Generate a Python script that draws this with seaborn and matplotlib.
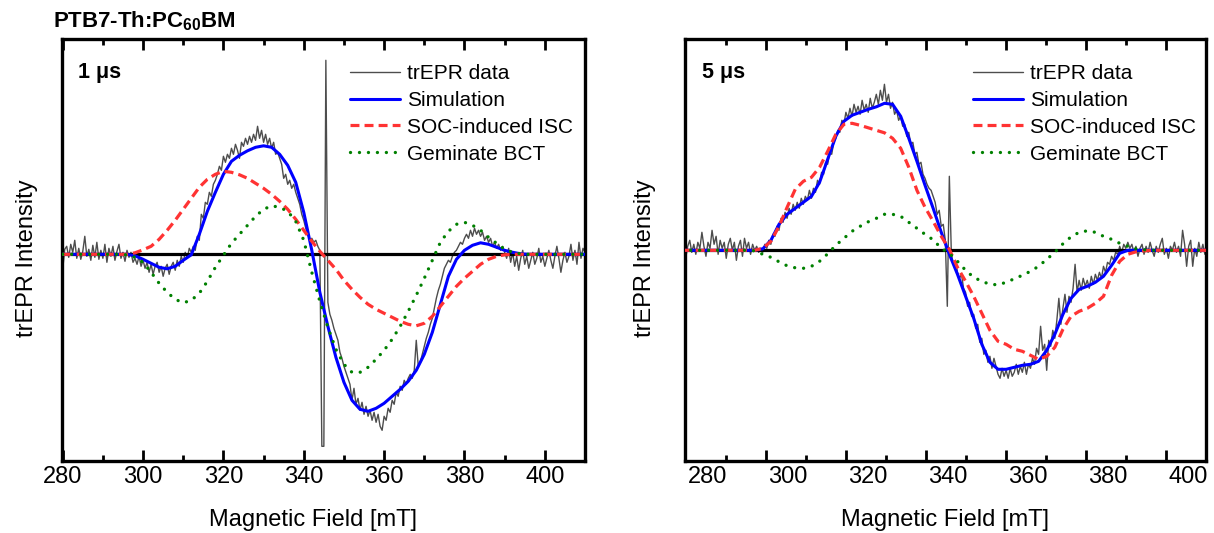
import numpy as np
import pandas as pd
import matplotlib
matplotlib.use("Agg")
import matplotlib.pyplot as plt
import seaborn as sns

# ---------------- 1 us transient (left panel) ----------------
field_1us = np.arange(280.0, 410.01, 0.5)
trepr_1us = [
    -15, 5, 8, -3, 10, 2, 14, -4, 6, -5, 3, 18, -2, 5, -6, 9, -3, 12, -5, 4, -4, 10, -8, 6, -2, 8, -6, 3, 10, -4, 2, -7, 4,
    -3, 2, -8, -4, -10, -2, -12, -6, -14, -8, -18, -10, -20, -12, -8, -18, -12, -22, -14, -10, -20, -12, -8, -16, -6, -12, -2, -8, 2, -4, 6, 2,
    8, 4, 18, 14, 40, 36, 52, 50, 62, 58, 70, 74, 80, 88, 84, 98,
    92, 100, 96, 106, 100, 110, 104, 96, 112, 108, 116, 110, 118, 112, 120, 114, 128, 116, 124, 112, 120, 110, 116, 106, 112, 100,
    102, 96, 90, 76, 80, 70, 74, 66, 70, 62, 56, 50, 40, 34, 26, 20, 14, 16, 12, 14, 8, 4,
    -192, -192, 194, -48,
    -60, -66, -74, -80, -86, -98, -104, -112, -118, -124, -130, -146, -134, -150, -144, -156, -148, -160, -152, -162,
    -156, -166, -158, -168, -160, -172, -176, -162, -166, -154, -158, -146, -150, -138, -142, -132, -136, -126, -130, -124,
    -120, -124, -116, -86, -112, -108, -100, -92, -84, -78, -70, -64, -54, -44, -36, -30, -22, -14, -10, -6, -8, -2, 2, 4, 8, 12, 10, 16,
    20, 16, 24, 18, 26, 20, 24, 18, 22, 14, 18, 12, 16, 8, 12, 6, 10, 4, 8, 2,
    -4, 6, -8, 2, -12, -2, -16, -4, 4, -10, -2, -14, -6, 2, -10, -4, 6, -8, -2, -12,
    -4, 4, -6, -14, -2, 8, -4, -18, -6, 2, -8, -2, 10, -6, 4, -10, 12, -4, 6, 2,
]
fit_field_1us = np.arange(280.0, 410.01, 2.0)
sim_1us = [0] * 9 + [
    -1.5, -5, -9, -13, -14.5, -12, -6, -0.5, 20, 43, 62, 80, 93, 99, 103.5, 107, 108.5, 107, 100, 89, 72,
    42, 4, -38, -72, -103, -128, -146, -155, -157, -154, -149, -142, -135, -127, -116, -100, -78, -50, -22, -5,
    4, 9, 11.5, 10, 7, 4, 2, 0.5,
] + [0] * 8
soc_1us = [0] * 9 + [
    1.5, 4.5, 8, 15, 24, 34, 45, 56, 67, 75, 80, 83, 82, 79.5, 76, 71, 66, 60, 53, 45, 35, 24, 13, 3,
    -6, -15, -26, -35, -43, -50, -55, -59, -63, -67, -70, -71.5, -69, -62, -52, -42, -32, -24, -17, -10, -5, -2, -0.5,
] + [0] * 10
bct_1us = [0] * 8 + [
    -0.5, -3, -8, -18, -29, -38, -45, -48.5, -46, -39, -27, -13, -1, 11, 20, 29, 38, 45, 48.5, 47, 43, 33, 14,
    -18, -47, -73, -95, -110, -118, -118, -113, -105, -96, -85, -72, -57, -41, -24, -6, 12, 23, 30, 32, 29, 24,
    17, 11, 5, 2, 0.5,
] + [0] * 8

# ---------------- 5 us transient (right panel) ----------------
field_5us = np.linspace(274.5, 405.15, 259)
trepr_5us = [
    -8, 4, 10, -2, 6, -4, 8, 2, 18, 4, -6, 8, 2, 20, 6, 14, -4, 10, 2, 8, -8, 6, 12, 0, 8, -10, 4, 10, -6, 12, 2, 8, -4, 6, 0, 4, -2,
    2, -2, 6, 2, 10, 6, 16, 14, 24, 20, 32, 28, 38, 32, 42, 36, 46, 40, 48, 42, 52, 46, 54, 50, 60, 52, 62, 58, 70, 66, 78, 76, 88, 86,
    98, 96, 108, 112, 120, 118, 130, 126, 138, 132, 142, 134, 146, 138, 144, 136, 150, 140, 146, 138,
    152, 142, 148, 156, 146, 160, 150, 166, 148, 156, 142, 148, 136, 140, 130, 134, 124, 126, 114, 118,
    106, 108, 96, 98, 86, 88, 76, 72, 66, 62, 60, 54, 48, 36, 40, 24, 26, 10, -56, 74, -4, -14, -10, -22,
    -28, -24, -38, -42, -56, -52, -66, -64, -78, -74, -92, -88, -104, -100, -112, -106, -118, -108, -116, -124,
    -128, -118, -126, -120, -128, -118, -126, -122,
    -114, -124, -116, -122, -112, -124, -114, -118, -108, -114, -98, -104, -76, -100, -94, -120, -90, -96, -80, -88,
    -70, -48, -74, -58, -44, -62, -46, -52, -38, -14, -42, -30, -40, -28, -36, -30, -38, -26, -34, -24,
    -30, -22, -28, -16, -22, -12, -14, -6, -10, -2, -4, 4, -2, 6, 2, 8,
    2, 6, -2, 4, -6, 2, 6, -4, 4, -2, 8, 0, -6, 4, -2, 6, 12, -4, 2, -8,
    4, 0, 8, -2, 4, -6, 20, 6, -16, 4, 10, -16, 2, -6, 8, -2, 6, -4, 10, 2,
]
fit_field_5us = np.linspace(273.5, 405.15, 66)
sim_5us = [0] * 10 + [
    1.5, 10, 26, 36, 42, 48, 54, 68, 91, 114, 129, 135, 138, 141, 143.5, 147, 146, 134, 112, 89, 65, 42, 18,
    -4, -24, -46, -68, -94, -112, -119, -119, -117, -115, -114, -111, -100, -84, -64, -48, -39, -36, -32, -26,
    -15, -3, 0,
] + [0] * 10
soc_5us = [0] * 10 + [
    2, 9, 24, 43, 61, 69, 73, 83, 99, 116, 126, 127, 125, 122.5, 120, 117.5, 112, 102, 83, 60, 43, 29, 14, 1,
    -17, -31, -46, -63, -80, -91, -94, -99, -101, -105, -109, -106, -97, -79, -66, -61, -58, -53, -46, -25,
    -11, -4, -1.5, -0.5,
] + [0] * 8
bct_5us = [0] * 9 + [
    -0.5, -4, -7, -11.5, -15.5, -17.5, -18, -16, -11, -3.5, 5, 12, 19, 24, 28.5, 32, 36, 36, 34, 28, 22, 16,
    10.5, 2, -3, -11, -20, -27, -31, -34, -34.5, -32, -28.5, -25, -21, -16, -9, -2, 6.5, 13.5, 18, 19.5, 18,
    14, 11, 7, 4, 1.5, 0.5,
] + [0] * 8

panel_tags = ["1 \u03bcs", "5 \u03bcs"]
series_names = ["trEPR data", "Simulation", "SOC-induced ISC", "Geminate BCT"]
tick_labels = [280, 300, 320, 340, 360, 380, 400]

# ---------------- style ----------------
sns.set_theme(style="white")
plt.rcParams["font.family"] = ["Liberation Sans", "DejaVu Sans"]
plt.rcParams["mathtext.fontset"] = "custom"
plt.rcParams["mathtext.rm"] = "Liberation Sans"
plt.rcParams["mathtext.bf"] = "Liberation Sans:bold"
for key in ["text.color", "axes.labelcolor", "xtick.color", "ytick.color", "axes.edgecolor"]:
    plt.rcParams[key] = "black"

DATA_C, SIM_C, SOC_C, BCT_C = "#4d4d4d", "#0000ff", "#ff3333", "#008000"
TICK_FS, LABEL_FS, LEGEND_FS = 17, 17, 15
W, H = 1214, 533

fig = plt.figure(figsize=(W / 100, H / 100), dpi=100)
ax1 = fig.add_axes([61.5 / W, 1 - 460.7 / H, (585 - 61.5) / W, (460.7 - 39.3) / H])
ax2 = fig.add_axes([685 / W, 1 - 460.7 / H, (1205.7 - 685) / W, (460.7 - 39.3) / H])


def draw_panel(ax, field, data, fit_field, sim, soc, bct, tag, xlim, ylim, legend_x, ypad):
    d = pd.DataFrame({"field": field, "y": data})
    f = pd.DataFrame({"field": fit_field, "sim": sim, "soc": soc, "bct": bct})
    sns.lineplot(data=d, x="field", y="y", ax=ax, color=DATA_C, linewidth=1.0,
                 estimator=None, sort=False, zorder=2, label=series_names[0])
    ax.axhline(0, color="black", linewidth=2.3, zorder=3)
    sns.lineplot(data=f, x="field", y="sim", ax=ax, color=SIM_C, linewidth=2.2,
                 estimator=None, sort=False, zorder=4, label=series_names[1])
    sns.lineplot(data=f, x="field", y="soc", ax=ax, color=SOC_C, linewidth=2.3,
                 linestyle=(0, (2.8, 1.6)), estimator=None, sort=False, zorder=5,
                 label=series_names[2])
    sns.lineplot(data=f, x="field", y="bct", ax=ax, color=BCT_C, linewidth=2.4,
                 linestyle=(0, (0.01, 2.68)), dash_capstyle="round", estimator=None,
                 sort=False, zorder=6, label=series_names[3])

    ax.set_xlim(*xlim)
    ax.set_ylim(*ylim)
    ax.set_yticks([])
    ax.set_xlabel("")
    ax.set_ylabel("trEPR Intensity", fontsize=LABEL_FS, labelpad=ypad)
    ax.yaxis.label.set_y(0.48)
    for s in ax.spines.values():
        s.set_linewidth(2.4)
        s.set_color("black")
        s.set_visible(True)
    ax.tick_params(axis="x", which="both", direction="in", top=True, bottom=True,
                   width=2.0, labelsize=TICK_FS, pad=4)
    ax.tick_params(axis="x", which="major", length=7.8)
    ax.tick_params(axis="x", which="minor", length=4.5)

    ax.text(0.032, 0.9075, tag, transform=ax.transAxes, fontsize=15.5,
            fontweight="bold", va="baseline", ha="left")

    lines = {ln.get_label(): ln for ln in ax.get_lines()}
    ax.legend([lines[n] for n in series_names], series_names, loc="upper left",
              bbox_to_anchor=(legend_x, 0.9416), frameon=False, fontsize=LEGEND_FS,
              handlelength=2.4, handletextpad=0.36, labelspacing=0.38,
              borderpad=0, borderaxespad=0)


draw_panel(ax1, field_1us, trepr_1us, fit_field_1us, sim_1us, soc_1us, bct_1us,
           panel_tags[0], (279.7, 410.0), (-206.4, 215.0), 0.551, 17)
draw_panel(ax2, field_5us, trepr_5us, fit_field_5us, sim_5us, soc_5us, bct_5us,
           panel_tags[1], (274.33, 404.34), (-210.4, 211.0), 0.553, 21)

# left panel: labelled long ticks every 20 mT, short ticks in between
ax1.set_xticks(tick_labels)
ax1.set_xticks(np.arange(290, 401, 20), minor=True)
ax1.set_xlabel("Magnetic Field [mT]", fontsize=LABEL_FS, labelpad=15)
ax1.xaxis.label.set_x(0.48)

# right panel: tick marks sit between the labelled field values
ax2.set_xticks(np.arange(294.5, 400, 20))
ax2.set_xticks(np.arange(284.5, 400, 20), minor=True)
ax2.tick_params(axis="x", which="both", labelbottom=False)
sec = ax2.secondary_xaxis("bottom")
sec.set_xticks(tick_labels)
sec.tick_params(axis="x", length=0, labelsize=TICK_FS, pad=4, colors="black")
sec.set_xlabel("Magnetic Field [mT]", fontsize=LABEL_FS, labelpad=15)
for s in sec.spines.values():
    s.set_visible(False)

fig.text(53 / W, 1 - 27 / H, r"PTB7-Th:PC$_{\mathbf{60}}$BM", fontsize=16,
         fontweight="bold", va="baseline", ha="left")

fig.savefig("out.png", dpi=100)
